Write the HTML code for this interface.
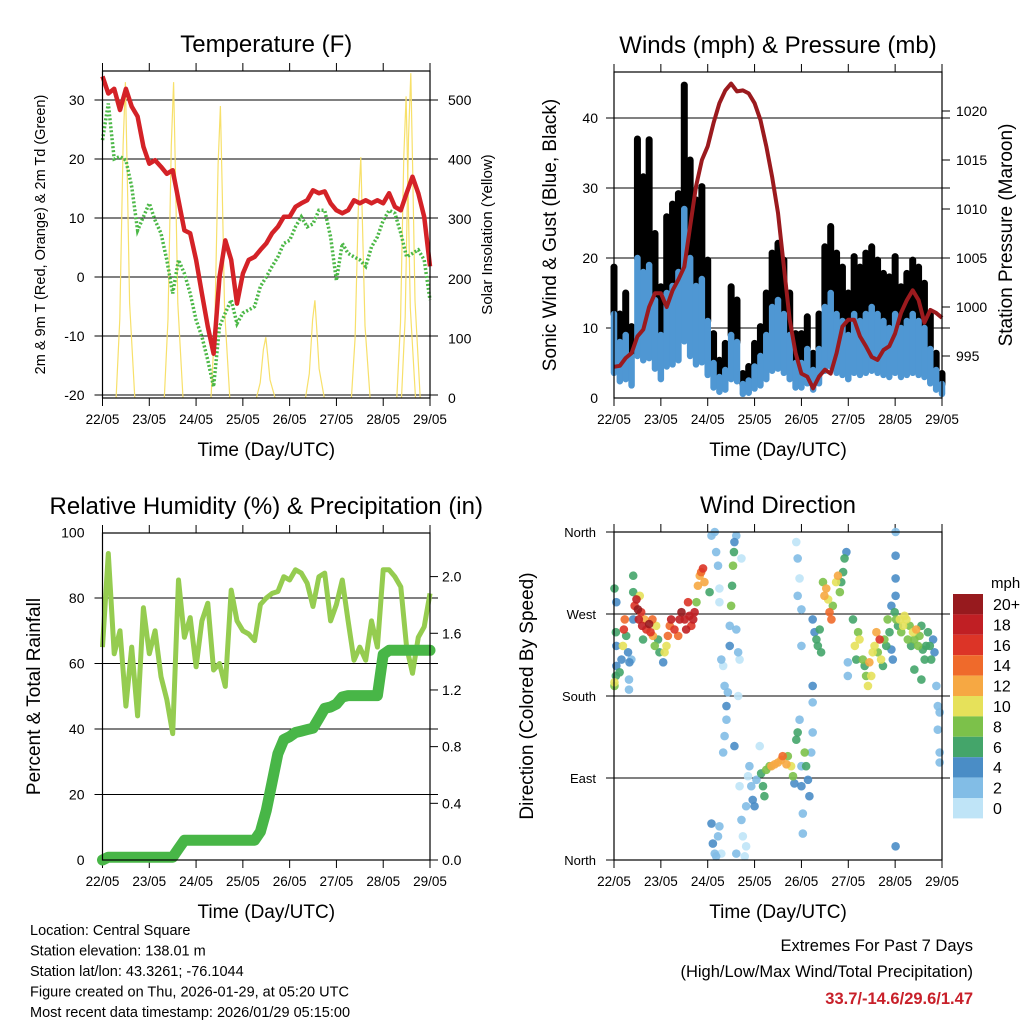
<!DOCTYPE html>
<html><head><meta charset="utf-8"><style>
html,body{margin:0;padding:0;background:#fff;}
svg{display:block;font-family:"Liberation Sans",Arial,sans-serif;}
</style></head><body>
<svg id="s" width="1024" height="1024" viewBox="0 0 1024 1024" xmlns="http://www.w3.org/2000/svg"></svg>
<script>
// ---------- DATA (3-hourly samples, index 0 = 22/05 00Z, 56 = 29/05 00Z) ----------
const dayLabels = ["22/05","23/05","24/05","25/05","26/05","27/05","28/05","29/05"];
const tempRed = [34,31.1,31.9,28.3,31.9,28.9,27.2,22.1,19.2,19.8,18.7,17.5,18.1,13,7.9,7.4,2.9,-2.8,-8.4,-13,0,6.2,2.9,-4.5,0.6,2.9,3.4,4.6,5.7,7.4,8.5,10.2,10.2,11.9,12.5,13,14.7,14.2,14.5,12.5,11.3,10.8,11.3,13,12.5,13,12.5,13,12.5,14.2,11.9,11.3,14.2,17,14.2,10.2,1.8];
const dewGreen = [23.2,29.4,20,20.4,19.8,15.3,7.9,10.2,12.5,9.6,7.4,2.9,-2.8,2.9,0.6,-2.8,-7.3,-10.1,-14.1,-18.6,-8.4,-6.1,-3.9,-7.9,-6.1,-5.6,-5,-1.6,0,1.8,3.4,5.7,6.2,8.5,10.2,8.5,9,11.3,11.3,6.8,-0.6,5.7,4,3.4,2.9,1.8,5.1,6.8,9.6,11.3,10.8,7.4,3.4,4,4.6,2.9,-3.9];
const solarPeakDay = [0.49,1.52,2.52,3.49,4.54,5.52,6.49,6.59];
const solarPeakVal = [530,530,490,102,164,404,506,545];
const tempTicks = [-20,-10,0,10,20,30];
const solarTicks = [0,100,200,300,400,500];

const gust = [18.7,12,15,10.2,37,31.6,36.9,23.5,15.9,25.9,27.7,29.2,44.7,34,28.3,30.2,19.7,9.2,5.4,7.8,15.9,14,3.5,4.5,7.8,10.2,15,20.7,22.1,19.7,15,9.2,9.2,11.6,6.4,12,21.6,24.5,20.7,18.7,15,20.2,18.7,20.7,21.6,19.7,17.8,17.3,20.2,15.9,17.8,19.7,18.7,16.4,12,6.4,3.5];
const wind = [12,8,9,6,20,18,19,14,9,15,16,18,27,20,16,17,11,5,3,4,9,8,2,2.5,4.5,6,9,13,14,12,9,5,5,7,4,7,13,15,12,11,9,12,11,12,13,12,11,10,12,10,11,12,11,10,7,4,2];
const pressure = [993.9,994,994.8,995.3,997,997.7,1000,1001.4,1001.4,1000,1001.7,1002.8,1004.1,1008.2,1012.3,1015,1016.4,1018.8,1020.8,1022.1,1022.8,1022,1022.1,1021.8,1020.8,1019.1,1016.4,1013.3,1009.6,1004.1,998.7,995.3,993.2,992.9,991.7,992.9,993.6,993.2,995.3,998,998.7,998.7,997,996,994.9,994.6,995.6,996,997.3,999.4,1000.7,1001.7,1000.7,998.4,999.7,999.4,998.9];
const windTicks = [0,10,20,30,40];
const presTicks = [995,1000,1005,1010,1015,1020];

const rh = [65,93.6,63,70,47,65,44,77,63,70,56,49,38.6,85.5,68,74,59,73,78.4,58,60,53,82.4,73,70,69,67,78,80,81.4,82,86.5,85.5,88.6,87.6,84.5,77.4,86.5,87.6,73,78,85.5,73,61,65,61,73,65,88.6,88.6,86.5,83.4,65,57,68,71.2,81.4];
const precip = [0,0.02,0.02,0.02,0.02,0.02,0.02,0.02,0.02,0.02,0.02,0.02,0.02,0.08,0.14,0.14,0.14,0.14,0.14,0.14,0.14,0.14,0.14,0.14,0.14,0.14,0.14,0.2,0.35,0.55,0.75,0.85,0.87,0.9,0.91,0.92,0.93,1.0,1.07,1.08,1.1,1.15,1.16,1.16,1.16,1.16,1.16,1.16,1.45,1.48,1.48,1.48,1.48,1.48,1.48,1.48,1.48];
const rhTicks = [0,20,40,60,80,100];
const precipTicks = ["0.0","0.4","0.8","1.2","1.6","2.0"];

const dirDays = [0.01,0.01,0.04,0.05,0.05,0.04,0.05,0.01,0.12,0.16,0.19,0.21,0.23,0.26,0.30,0.33,0.32,0.32,0.37,0.41,0.41,0.41,0.44,0.48,0.51,0.53,0.55,0.58,0.60,0.62,0.65,0.69,0.75,0.78,0.82,0.83,0.87,0.90,0.94,0.97,1.05,1.08,1.12,1.15,1.19,1.22,1.29,1.37,1.40,1.44,1.51,1.54,1.58,1.61,1.65,1.69,1.72,1.76,1.79,1.83,1.86,1.90,1.93,2.04,
2.08,2.15,2.18,2.22,2.25,2.25,2.29,2.33,2.36,2.40,2.40,2.36,2.33,2.43,2.47,2.47,2.50,2.52,2.54,2.56,2.57,2.61,2.61,2.65,2.65,2.68,2.72,
2.08,2.11,2.15,2.18,2.22,2.25,2.29,
2.57,2.61,2.68,2.72,2.75,2.79,2.82,2.82,2.86,2.89,2.93,2.96,3.00,3.04,3.11,3.14,3.18,3.21,3.25,3.32,3.36,3.43,3.50,3.57,3.60,3.68,3.71,3.78,3.82,3.85,3.89,3.92,3.96,4.00,4.00,4.03,4.03,4.07,4.10,4.14,4.17,4.21,4.24,
3.89,3.92,3.96,4.00,3.92,4.00,
4.24,4.28,4.32,4.35,4.39,4.42,4.24,4.24,4.46,4.49,4.53,4.57,4.60,4.64,4.67,4.74,4.78,4.82,4.85,4.89,4.92,4.96,4.99,4.99,
5.10,5.14,5.17,5.21,5.24,5.31,5.35,5.38,5.42,5.45,5.49,5.52,5.56,5.60,5.63,5.67,5.70,5.74,5.77,5.81,5.84,5.88,5.92,5.95,5.99,6.02,6.06,6.10,6.13,6.17,6.20,6.24,6.27,6.31,6.34,6.38,6.41,6.45,6.49,6.52,6.56,6.59,6.63,6.66,6.70,6.74,6.77,6.81,6.84,6.56,6.41,6.01,6.01,6.01,6.01,6.01,5.92,6.88,6.91,6.95,6.91,6.95,6.95];
const dirDeg = [195,191,202,213,235,250,283,298,206,220,235,253,264,246,228,217,198,187,220,312,294,264,279,286,275,264,290,272,257,242,264,253,259,250,264,246,235,257,242,228,217,228,235,246,257,264,253,246,264,272,264,253,283,268,257,264,272,283,301,312,316,320,305,294,
356,360,338,323,298,283,220,213,191,169,154,136,118,184,235,257,279,301,323,338,349,356,253,228,180,220,331,
40,18,7,4,26,37,7,
125,7,81,44,26,4,15,59,92,103,81,66,59,88,125,95,81,70,99,103,103,105,107,110,114,105,114,103,92,84,132,140,154,103,81,51,29,118,103,88,70,118,140,
349,331,309,275,290,235,
264,250,242,235,253,228,191,173,305,290,298,286,272,264,279,305,312,294,305,316,331,338,217,202,
264,235,220,250,242,220,213,202,191,217,202,228,235,250,228,242,220,213,242,235,264,250,231,220,272,264,257,264,250,257,268,264,242,257,235,250,242,253,235,246,257,231,220,235,250,235,220,242,228,198,209,360,334,309,290,15,279,191,169,162,143,118,107];
const dirSpeed = [10,8,6,4,4,6,5,6,6,4,10,16,15,7,4,4,3,3,3,7,6,4,16,19,20,18,11,16,19,7,12,17,20,16,14,12,8,10,7,6,4,10,11,14,15,18,16,15,18,20,19,18,17,18,16,19,19,8,12,13,14,17,12,6,
2,2,3,2,1,1,2,0,3,4,3,2,3,2,4,2,8,7,8,6,4,3,3,2,1,1,1,
4,4,3,2,2,2,1,
4,2,1,2,1,1,1,2,1,2,3,4,4,3,1,7,6,7,8,9,12,13,12,13,14,12,9,10,8,4,7,7,3,3,4,2,3,8,7,4,4,2,2,
1,3,1,2,2,2,
4,5,6,6,7,7,4,3,8,13,12,11,14,15,8,10,12,9,7,7,6,5,3,2,
7,11,6,9,10,8,6,8,10,12,10,10,11,13,9,16,11,7,9,7,8,7,4,4,7,8,7,10,8,10,11,10,9,8,6,10,8,13,8,9,7,7,6,7,7,7,6,4,4,7,6,2,4,4,4,4,4,2,3,3,2,2,2];
const dirLabels = ["North","East","South","West","North"];
const speedLabels = ["20+","18","16","14","12","10","8","6","4","2","0"];
const speedColors = ["#971a1e","#c01f24","#dc3427","#ef6a2b","#f6a843","#e6e15a","#7cc14a","#44a56a","#4a8dc6","#82bde6","#bfe4f7"];

// ---------- DRAW ----------
const NS="http://www.w3.org/2000/svg";
const svg=document.getElementById('s');
function mk(tag,attrs,parent){const e=document.createElementNS(NS,tag);for(const k in attrs)e.setAttribute(k,attrs[k]);(parent||svg).appendChild(e);return e;}
function txt(x,y,s,size,anchor,parent,extra){const t=mk('text',Object.assign({x:x,y:y,'font-size':size,'text-anchor':anchor||'middle',fill:'#000'},extra||{}),parent);t.textContent=s;return t;}

function panel(name,L,R,T,B,title,ylab,ylabX,ylabSize,rlab,rlabX,rlabSize){
  const g=mk('g',{});
  
  
  const tt=txt((L+R)/2,52+(T-71),title,24,'middle',g);
  
  
  for(let i=0;i<8;i++){
    const x=L+(R-L)*i/7;
    mk('line',{x1:x,x2:x,y1:T-8,y2:T,stroke:'#000','stroke-width':1},g);
    mk('line',{x1:x,x2:x,y1:B,y2:B+8,stroke:'#000','stroke-width':1},g);
    const tl=txt(x,B+26,dayLabels[i],13.5,'middle',g);
    
    
  }
  const xt=txt((L+R)/2,B+58,'Time (Day/UTC)',19,'middle',g);
  
  
  const yt=txt(ylabX,(T+B)/2,ylab,ylabSize,'middle',g,{transform:`rotate(-90 ${ylabX} ${(T+B)/2})`});
  
  
  if(rlab){
    const rt=txt(rlabX,(T+B)/2,rlab,rlabSize,'middle',g,{transform:`rotate(-90 ${rlabX} ${(T+B)/2})`});
    
    
  }
  return g;
}
function border(L,R,T,B,g){const r=mk('rect',{x:L,y:T,width:R-L,height:B-T,fill:'none',stroke:'#000','stroke-width':1.2},g);}
function hgrid(y,L,R,g){mk('line',{x1:L-8,x2:R+8,y1:y,y2:y,stroke:'#000','stroke-width':1},g);}
function pts(arr,fx,fy){return arr.map((v,i)=>fx(i).toFixed(1)+','+fy(v).toFixed(1)).join(' ');}

// ===== Panel 1: Temperature =====
(function(){
  const L=102.5,R=430,T=71,B=398;
  const g=panel('temperature-panel',L,R,T,B,'Temperature (F)','2m & 9m T (Red, Orange) & 2m Td (Green)',45,14.5,'Solar Insolation (Yellow)',492,15);
  const xI=i=>L+(R-L)*i/56, xD=d=>L+(R-L)*d/7;
  const yT=v=>277-v*5.9, yS=v=>398-v*0.596;
  tempTicks.forEach(v=>{hgrid(yT(v),L,R,g);const t=txt(L-18,yT(v)+5,String(v),14,'end',g);});
  solarTicks.forEach(v=>{const t=txt(R+18,yS(v)+5,String(v),14,'start',g);});
  solarPeakDay.forEach((d,k)=>{
    const v=solarPeakVal[k];
    const p=[[d-0.2,0],[d-0.12,v*0.25],[d-0.05,v*0.8],[d,v],[d+0.04,v*0.7],[d+0.09,v*0.3],[d+0.2,0]];
    const s=mk('polyline',{points:p.map(q=>xD(q[0]).toFixed(1)+','+yS(q[1]).toFixed(1)).join(' '),fill:'none',stroke:'#f7e06a','stroke-width':1.2},g);
    
    
  });
  const dg=mk('polyline',{points:pts(dewGreen,xI,yT),fill:'none',stroke:'#4cb847','stroke-width':3.5,'stroke-dasharray':'2 2'},g);
  
  
  const tr=mk('polyline',{points:pts(tempRed,xI,yT),fill:'none',stroke:'#d42227','stroke-width':4.5,'stroke-linejoin':'round'},g);
  
  
  border(L,R,T,B,g);
})();

// ===== Panel 2: Winds & Pressure =====
(function(){
  const L=614,R=942,T=72,B=398;
  const g=panel('winds-panel',L,R,T,B,'Winds (mph) & Pressure (mb)','Sonic Wind & Gust (Blue, Black)',556,19,'Station Pressure (Maroon)',1012,19);
  const xI=i=>L+(R-L)*i/56;
  const yW=v=>398-v*7, yP=v=>356-(v-995)*9.8;
  windTicks.forEach(v=>{if(v>0)hgrid(yW(v),L,R,g);const t=txt(L-16,yW(v)+5,String(v),14,'end',g);});
  presTicks.forEach(v=>{mk('line',{x1:R,x2:R+8,y1:yP(v),y2:yP(v),stroke:'#000'},g);const t=txt(R+14,yP(v)+5,String(v),14,'start',g);});
  gust.forEach((v,i)=>{
    const lo=wind[i];
    const b=mk('line',{x1:xI(i),x2:xI(i),y1:yW(lo),y2:yW(v),stroke:'#000','stroke-width':7,'stroke-linecap':'round'},g);
    
    
  });
  wind.forEach((v,i)=>{
    const b=mk('line',{x1:xI(i),x2:xI(i),y1:yW(v*0.3),y2:yW(v),stroke:'#4f97d3','stroke-width':6.5,'stroke-linecap':'round'},g);
    
    
  });
  const p=mk('polyline',{points:pts(pressure,xI,yP),fill:'none',stroke:'#9b1a1e','stroke-width':4,'stroke-linejoin':'round'},g);
  
  
  border(L,R,T,B,g);
})();

// ===== Panel 3: RH & Precip =====
(function(){
  const L=102.5,R=430,T=533,B=860;
  const g=panel('humidity-panel',L,R,T,B,'Relative Humidity (%) & Precipitation (in)','Percent & Total Rainfall',40,19,null,0,0);
  const xI=i=>L+(R-L)*i/56;
  const yH=v=>860-v*3.275, yR=v=>860-v*141.7;
  rhTicks.forEach(v=>{if(v>0&&v<100)hgrid(yH(v),L,R,g);const t=txt(L-18,yH(v)+5,String(v),14,'end',g);});
  precipTicks.forEach(s=>{const v=parseFloat(s);mk('line',{x1:R,x2:R+8,y1:yR(v),y2:yR(v),stroke:'#000'},g);const t=txt(R+12,yR(v)+5,s,14,'start',g);});
  const h=mk('polyline',{points:pts(rh,xI,yH),fill:'none',stroke:'#95cc50','stroke-width':5,'stroke-linejoin':'round'},g);
  
  
  const pr=mk('polyline',{points:pts(precip,xI,yR),fill:'none',stroke:'#48b647','stroke-width':11,'stroke-linejoin':'round','stroke-linecap':'round'},g);
  
  
  border(L,R,T,B,g);
})();

// ===== Panel 4: Wind direction =====
(function(){
  const L=614,R=942,T=532,B=860;
  const g=panel('wind-direction-panel',L,R,T,B,'Wind Direction','Direction (Colored By Speed)',533,19,null,0,0);
  const xD=d=>L+(R-L)*d/7, yD=v=>860-v*(328/360);
  dirLabels.forEach((s,k)=>{const v=k*90;if(k>0&&k<4)hgrid(yD(v),L,R,g);else mk('line',{x1:L-8,x2:L,y1:yD(v),y2:yD(v),stroke:'#000'},g);const t=txt(L-18,yD(v)+5,s,13,'end',g);});
  const col=s=>{let k=10-Math.floor(s/2);if(k<0)k=0;if(k>10)k=10;return speedColors[k];};
  const order=dirSpeed.map((s,i)=>i).sort((a,b)=>dirSpeed[a]-dirSpeed[b]);
  order.forEach(i=>{
    const c=mk('circle',{cx:xD(dirDays[i]),cy:yD(dirDeg[i]),r:4.3,fill:col(dirSpeed[i]),'fill-opacity':0.9},g);
    
    
  });
  border(L,R,T,B,g);
  const cb=mk('g',{});
  
  
  const mt=txt(991,588,'mph',15,'start',cb);
  
  
  speedLabels.forEach((s,k)=>{
    const y=594+k*20.4;
    const r=mk('rect',{x:953,y:y,width:30,height:20.4,fill:speedColors[k]},cb);
    
    
    const t=txt(993,y+16,s,16,'start',cb);
    
    
  });
})();

// ===== Footer =====
const footLeft=["Location: Central Square","Station elevation: 138.01 m","Station lat/lon: 43.3261; -76.1044","Figure created on Thu, 2026-01-29, at 05:20 UTC","Most recent data timestamp: 2026/01/29 05:15:00"];
footLeft.forEach((s,k)=>{const t=txt(30,935+k*20.5,s,14.5,'start');});
const e1=txt(973,951,'Extremes For Past 7 Days',16.5,'end');


const e2=txt(973,977,'(High/Low/Max Wind/Total Precipitation)',16.5,'end');


const e3=txt(973,1004,'33.7/-14.6/29.6/1.47',16.5,'end',null,{fill:'#c8202a','font-weight':'bold'});


</script>
</body></html>
